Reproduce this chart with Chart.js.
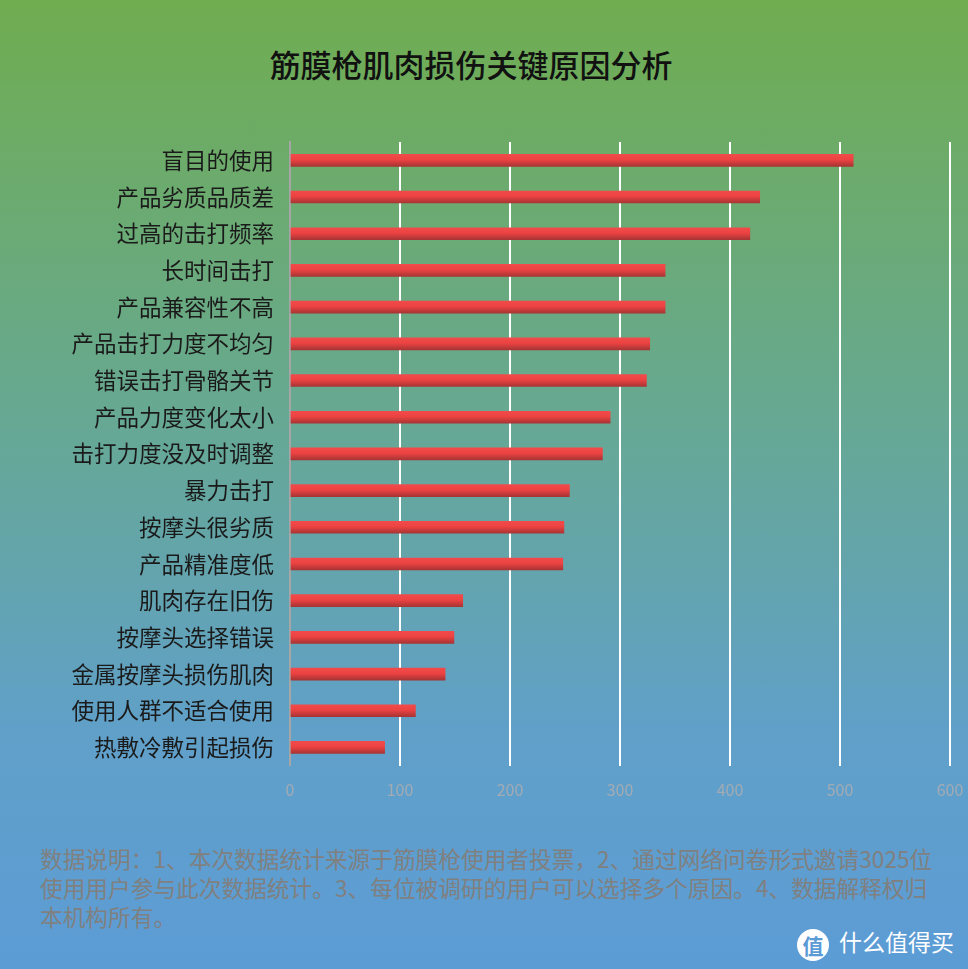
<!DOCTYPE html>
<html>
<head>
<meta charset="utf-8">
<script src="https://cdn.jsdelivr.net/npm/chart.js@4.4.1/dist/chart.umd.min.js"></script>
<style>
    body { margin: 0; }
    #page {
        position: relative;
        width: 968px;
        height: 969px;
        overflow: hidden;
        background: linear-gradient(to bottom, rgb(112, 173, 80) 0%, rgb(102, 168, 150) 45%, rgb(96, 160, 200) 75%, rgb(92, 156, 214) 100%);
        font-family: "Noto Sans CJK SC", sans-serif;
    }
    #chart-container {
        position: absolute;
        left: 0;
        top: 0;
        width: 968px;
        height: 815px;
    }
    #title {
        position: absolute;
        left: 0;
        top: 44px;
        width: 942px;
        text-align: center;
        font-size: 31px;
        line-height: 40px;
        color: #111111;
        font-weight: 500;
    }
    #note {
        position: absolute;
        left: 40px;
        top: 844px;
        width: 920px;
        font-size: 22.7px;
        line-height: 29px;
        color: #808080;
        white-space: nowrap;
    }
    #logo {
        position: absolute;
        left: 797px;
        top: 924px;
        color: #ffffff;
        font-size: 23px;
        line-height: 34px;
        white-space: nowrap;
    }
    #logo .circle {
        display: inline-block;
        width: 32px;
        height: 32px;
        border-radius: 16px;
        background: #ffffff;
        color: #5b9bd5;
        font-size: 21px;
        line-height: 32px;
        text-align: center;
        font-weight: bold;
        vertical-align: middle;
        margin-right: 10px;
    }
</style>
</head>
<body>
<div id="page">
    <div id="title"></div>
    <div id="chart-container"><canvas id="reasonChart" width="968" height="815"></canvas></div>
    <div id="note">数据说明：1、本次数据统计来源于筋膜枪使用者投票，2、通过网络问卷形式邀请3025位<br>使用用户参与此次数据统计。3、每位被调研的用户可以选择多个原因。4、数据解释权归<br>本机构所有。</div>
    <div id="logo"><span class="circle">值</span>什么值得买</div>
</div>
<script>
const chartTitle = "筋膜枪肌肉损伤关键原因分析";
const reasons = [
    "盲目的使用",
    "产品劣质品质差",
    "过高的击打频率",
    "长时间击打",
    "产品兼容性不高",
    "产品击打力度不均匀",
    "错误击打骨骼关节",
    "产品力度变化太小",
    "击打力度没及时调整",
    "暴力击打",
    "按摩头很劣质",
    "产品精准度低",
    "肌肉存在旧伤",
    "按摩头选择错误",
    "金属按摩头损伤肌肉",
    "使用人群不适合使用",
    "热敷冷敷引起损伤"
];
const votes = [512, 427, 418, 341, 341, 327, 324, 291, 284, 254, 249, 248, 157, 149, 141, 114, 86];
const xTicks = [0, 100, 200, 300, 400, 500, 600];

document.getElementById("title").textContent = chartTitle;

// vertical red gradient per bar, placed with the y scale
function barColor(context) {
    const chart = context.chart;
    const yScale = chart.scales.y;
    if (!yScale || !chart.chartArea) return "#e84040";
    const cy = yScale.getPixelForValue(context.dataIndex);
    if (!isFinite(cy)) return "#e84040";
    const g = chart.ctx.createLinearGradient(0, cy - 6, 0, cy + 6);
    g.addColorStop(0, "#f24a4a");
    g.addColorStop(0.45, "#ec4242");
    g.addColorStop(1, "#a83434");
    return g;
}

const ctx = document.getElementById("reasonChart").getContext("2d");
new Chart(ctx, {
    type: "bar",
    data: {
        labels: reasons,
        datasets: [{
            label: "票数",
            data: votes,
            backgroundColor: barColor,
            borderWidth: 0,
            barThickness: 12
        }]
    },
    options: {
        indexAxis: "y",
        responsive: false,
        animation: false,
        layout: {
            padding: { left: 0, right: 0, top: 142, bottom: 0 }
        },
        plugins: {
            legend: { display: false },
            tooltip: { enabled: false },
            title: { display: false }
        },
        scales: {
            x: {
                min: 0,
                max: 600,
                afterBuildTicks: function (scale) {
                    scale.ticks = xTicks.map(v => ({ value: v }));
                },
                afterFit: function (scale) { scale.paddingRight = 18; },
                grid: {
                    color: function (c) { return c.index === 0 ? "rgba(0,0,0,0)" : "#ffffff"; },
                    lineWidth: 2,
                    drawTicks: false
                },
                border: { display: false },
                ticks: {
                    color: "#a3abb3",
                    padding: 15,
                    font: { family: "Noto Sans CJK SC", size: 16 }
                }
            },
            y: {
                afterFit: function (scale) { scale.width = 290; },
                grid: { display: false, drawTicks: false },
                border: { display: true, color: "#a6a6a6", width: 2 },
                ticks: {
                    color: "#1a1a1a",
                    padding: 16,
                    font: { family: "Noto Sans CJK SC", size: 22.5 }
                }
            }
        }
    }
});
</script>
</body>
</html>
